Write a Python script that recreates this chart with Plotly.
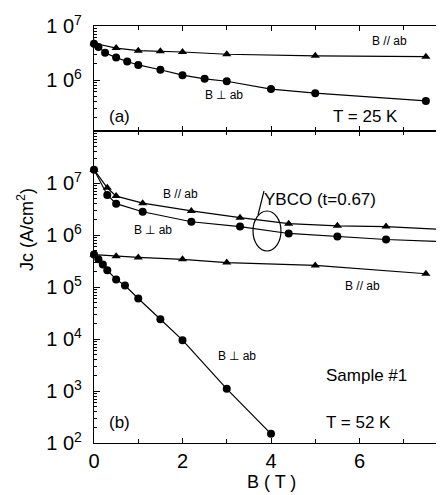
import plotly.graph_objects as go

# ---- data: panel (a) T = 25 K ----
a_par_B = [0, 0.5, 1.0, 1.5, 2.0, 3.0, 5.0, 7.5]
a_par_J = [4.8e6, 3.9e6, 3.5e6, 3.4e6, 3.3e6, 3.0e6, 2.8e6, 2.7e6]
a_perp_B = [0, 0.1, 0.25, 0.5, 0.75, 1.0, 1.5, 2.0, 2.5, 3.0, 4.0, 5.0, 7.5]
a_perp_J = [4.7e6, 4.1e6, 3.2e6, 2.6e6, 2.2e6, 1.9e6, 1.55e6, 1.23e6, 1.05e6, 0.95e6, 6.8e5, 5.7e5, 4.1e5]

# ---- data: panel (b) T = 52 K ----
y_par_B = [0, 0.3, 0.5, 1.1, 2.2, 3.3, 4.4, 5.5, 6.6, 7.95]
y_par_J = [1.8e7, 8.1e6, 5.6e6, 4.1e6, 2.9e6, 2.15e6, 1.65e6, 1.5e6, 1.45e6, 1.27e6]
y_perp_B = [0, 0.3, 0.5, 1.1, 2.2, 3.3, 4.4, 5.5, 6.6, 7.95]
y_perp_J = [1.8e7, 5.9e6, 4.0e6, 2.8e6, 1.8e6, 1.45e6, 1.07e6, 9.4e5, 8.2e5, 7.4e5]
s_par_B = [0, 0.5, 1.0, 2.0, 3.0, 5.0, 7.5]
s_par_J = [4.2e5, 3.9e5, 3.7e5, 3.4e5, 2.95e5, 2.6e5, 1.8e5]
s_perp_B = [0, 0.1, 0.2, 0.3, 0.5, 0.7, 1.0, 1.5, 2.0, 3.0, 4.0]
s_perp_J = [4.2e5, 3.4e5, 2.7e5, 2.1e5, 1.4e5, 1.07e5, 6.0e4, 2.4e4, 9.5e3, 1.1e3, 150]

x_ticks = [0, 2, 4, 6, 8]
top_y_ticks = [1e6, 1e7]
top_y_text = ["1\u00a00<sup>6</sup>", "1\u00a00<sup>7</sup>"]
bot_y_ticks = [1e2, 1e3, 1e4, 1e5, 1e6, 1e7]
bot_y_text = ["1\u00a00<sup>%d</sup>" % k for k in range(2, 8)]
minor_y = [m * 10 ** k for k in range(2, 8) for m in range(2, 10)]

FONT = "Liberation Sans, Arial, sans-serif"
W, H = 444, 495
L, R, T, B = 86, 4, 18, 60
PW, PH = W - L - R, H - T - B

def px(x, y):
    return (x - L) / PW, (H - B - y) / PH

fig = go.Figure()

def add(xs, ys, sym, ax):
    fig.add_trace(go.Scatter(
        x=xs, y=ys, mode="lines+markers", xaxis="x" if ax == 1 else "x2",
        yaxis="y" if ax == 1 else "y2",
        line=dict(color="black", width=1.2),
        marker=dict(symbol=sym, size=8, color="black"),
        showlegend=False, cliponaxis=False))

add(a_par_B, a_par_J, "triangle-up", 1)
add(a_perp_B, a_perp_J, "circle", 1)
add(y_par_B, y_par_J, "triangle-up", 2)
add(y_perp_B, y_perp_J, "circle", 2)
add(s_par_B, s_par_J, "triangle-up", 2)
add(s_perp_B, s_perp_J, "circle", 2)

split = 312 / 417

axis_common = dict(showline=True, linecolor="black", linewidth=1.3, ticks="inside",
                   tickcolor="black", showgrid=False, zeroline=False,
                   ticklabeloverflow="allow",
                   tickfont=dict(family=FONT, size=20, color="black"))
ymin = dict(tickmode="array", tickvals=minor_y, ticks="inside", ticklen=3,
            tickcolor="black", showgrid=False)

fig.update_layout(
    width=W, height=H, margin=dict(l=L, r=R, t=T, b=B, autoexpand=False),
    paper_bgcolor="white", plot_bgcolor="white",
    xaxis=dict(axis_common, range=[0, 8], domain=[0, 1], anchor="y", tickvals=x_ticks,
               showticklabels=False, mirror="ticks", ticklen=5,
               minor=dict(dtick=1, ticks="inside", ticklen=4, tickcolor="black")),
    yaxis=dict(axis_common, type="log", range=[5.056, 7], domain=[split, 1], anchor="x",
               tickvals=top_y_ticks, ticktext=top_y_text, mirror=True, ticklen=6,
               ticklabelstandoff=7, minor=ymin),
    xaxis2=dict(axis_common, range=[0, 8], domain=[0, 1], anchor="y2", tickvals=x_ticks,
                ticktext=[str(v) for v in x_ticks], mirror="ticks", ticklen=5,
                minor=dict(dtick=1, ticks="inside", ticklen=4, tickcolor="black")),
    yaxis2=dict(axis_common, type="log", range=[2, 8], domain=[0, split], anchor="x2",
                tickvals=bot_y_ticks, ticktext=bot_y_text, mirror=True, ticklen=6,
                ticklabelstandoff=7, minor=ymin),
)

def text(s, x, y, size, anchor="left", angle=0):
    xp, yp = px(x, y)
    fig.add_annotation(text=s, x=xp, y=yp, xref="paper", yref="paper", showarrow=False,
                       xanchor=anchor, yanchor="middle", textangle=angle,
                       font=dict(family=FONT, size=size, color="black"))

# panel (a)
text("B // ab", 362, 33, 12)
text("B \u22a5 ab", 195, 87, 12)
text("(a)", 99, 108, 17)
text("T = 25 K", 323, 108, 17)
# panel (b)
text("B // ab", 153, 186, 12)
text("YBCO (t=0.67)", 254, 192, 17)
text("B \u22a5 ab", 124, 222, 12)
text("B // ab", 335, 278, 12)
text("B \u22a5 ab", 208, 348, 12)
text("Sample #1", 316, 367, 17)
text("T = 52 K", 316, 414, 17)
text("(b)", 99, 414, 17)
text("B ( T )", 263, 474, 18, "center")
# y title
text("Jc (A/cm<sup>2</sup>)", 18, 222, 18, "center", -90)

# ellipse bracket
x0, y0 = px(245, 243)
x1, y1 = px(273, 203)
fig.add_shape(type="circle", xref="paper", yref="paper", x0=x0, y0=y0, x1=x1, y1=y1,
              line=dict(color="black", width=1.2))
lx0, ly0 = px(250, 207)
lx1, ly1 = px(256, 183)
fig.add_shape(type="line", xref="paper", yref="paper", x0=lx0, y0=ly0, x1=lx1, y1=ly1,
              line=dict(color="black", width=1.2))

fig.write_html("out.html")
